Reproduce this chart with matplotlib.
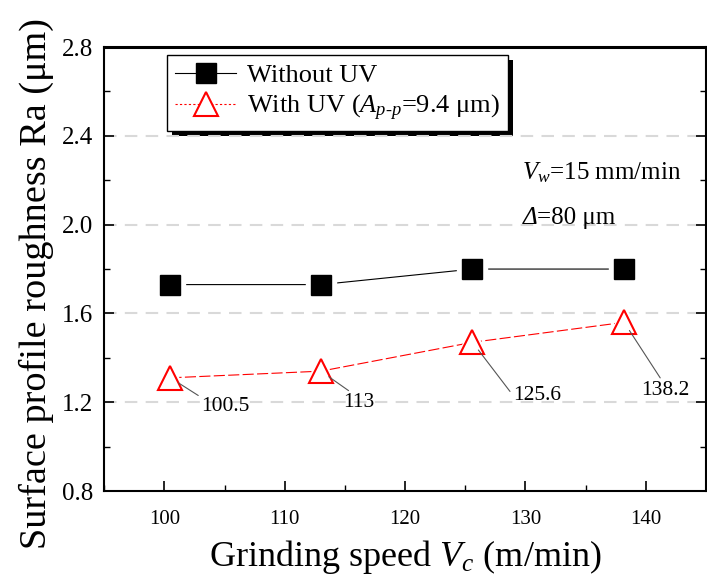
import matplotlib
matplotlib.use("Agg")
import matplotlib.pyplot as plt
from matplotlib.patches import Rectangle
from matplotlib.ticker import MultipleLocator

# Grinding speed (m/min) and surface roughness Ra (um)
speed = [100.5, 113, 125.6, 138.2]
ra_without_uv = [1.73, 1.73, 1.80, 1.80]
ra_with_uv = [1.31, 1.34, 1.47, 1.56]
speed_labels = ["100.5", "113", "125.6", "138.2"]

x_ticks = [100, 110, 120, 130, 140]
y_ticks = [0.8, 1.2, 1.6, 2.0, 2.4, 2.8]

plt.rcParams["font.family"] = ["Liberation Serif", "DejaVu Serif"]
plt.rcParams["mathtext.fontset"] = "custom"
plt.rcParams["mathtext.rm"] = "Liberation Serif"
plt.rcParams["mathtext.it"] = "Liberation Serif:italic"

fig = plt.figure(figsize=(7.07, 5.78), dpi=100)
ax = fig.add_axes([0.1475, 0.1505, 0.851, 0.768])

ax.set_xlim(95, 145)
ax.set_ylim(0.8, 2.8)
ax.set_xticks(x_ticks)
ax.set_yticks(y_ticks)
ax.set_yticklabels([f"{v:.1f}" for v in y_ticks])
ax.xaxis.set_minor_locator(MultipleLocator(5))
ax.yaxis.set_minor_locator(MultipleLocator(0.2))
ax.tick_params(axis="both", which="both", direction="in", right=True, top=False)
ax.tick_params(which="major", length=7, width=1.2)
ax.tick_params(which="minor", length=4, width=1.0)
ax.tick_params(axis="y", labelsize=18, pad=8)
ax.tick_params(axis="x", labelsize=15, pad=14)
for side in ["left", "bottom", "right"]:
    ax.spines[side].set_linewidth(1.5)
ax.spines["top"].set_linewidth(2.2)

# dashed horizontal grid
for v in y_ticks[1:-1]:
    ax.axhline(v, color="#d9d9d9", lw=1.5, ls=(0, (6, 4)), zorder=0)

# connecting lines, with a white gap around each marker
ax.plot(speed, ra_without_uv, color="black", lw=0.8, zorder=2)
ax.plot(speed, ra_with_uv, color="red", lw=0.8, ls=(0, (10, 3)), zorder=2)
ax.plot(speed, ra_without_uv, ls="none", marker="s", ms=22, mfc="white",
        mec="white", zorder=3)
ax.plot(speed, ra_with_uv, ls="none", marker="^", ms=24, mfc="white",
        mec="white", zorder=3)
ax.plot(speed, ra_without_uv, ls="none", marker="s", ms=14.5, mfc="black",
        mec="black", zorder=4)
ax.plot(speed, ra_with_uv, ls="none", marker="^", ms=17, mfc="white",
        mec="red", mew=1.5, zorder=4)

# legend handles
h1, = ax.plot([], [], color="black", lw=0.8, marker="s", ms=14.5,
              mfc="black", mec="black")
h2, = ax.plot([], [], color="red", lw=0.8, ls=(0, (2, 2)), marker="^", ms=17,
              mfc="white", mec="red", mew=1.5)
leg = ax.legend([h1, h2], ["Without UV", r"With UV ($A_{p\text{-}p}$=9.4 μm)"],
                loc="upper left", bbox_to_anchor=(0.104, 0.982),
                borderaxespad=0, fontsize=19, handlelength=2.3,
                handletextpad=0.4, labelspacing=0.22, borderpad=0.32,
                fancybox=False, framealpha=1, edgecolor="black")
leg.get_frame().set_linewidth(1.0)
leg.set_zorder(6)

# speed labels with leader lines
offsets = [((22, -14), "left", "top", (0, 1)),
           ((16, -16), "left", "top", (0.3, 1)),
           ((29, -38), "left", "center", (0, 0.5)),
           ((12, -42), "left", "top", (0.44, 1))]
for x, y, lab, (off, ha, va, rp) in zip(speed, ra_with_uv, speed_labels, offsets):
    ax.annotate(lab, xy=(x, y), xytext=off, textcoords="offset points",
                ha=ha, va=va, fontsize=15.5, zorder=5,
                arrowprops=dict(arrowstyle="-", color="#555555", lw=0.8,
                                shrinkA=0, shrinkB=7, relpos=rp))

# process conditions
ax.text(0.695, 0.718, r"$V_w$=15 mm/min", transform=ax.transAxes,
        fontsize=18, va="center", ha="left")
delta = ax.text(0.695, 0.616, "Δ", transform=ax.transAxes, fontsize=18,
                va="center", ha="left", style="italic")
ax.annotate("=80 μm", xy=(1.0, 0.5), xycoords=delta, fontsize=18,
            va="center", ha="left")

ax.set_xlabel(r"Grinding speed $V_c$ (m/min)", fontsize=26, labelpad=6)
ax.set_ylabel("Surface profile roughness Ra (μm)", fontsize=27.5, labelpad=6)
ax.yaxis.label.set_y(0.468)

# solid offset shadow behind the legend
fig.canvas.draw()
bb = leg.get_window_extent().transformed(fig.transFigure.inverted())
dx, dy = 5 / 707, 5 / 578
fig.add_artist(Rectangle((bb.x0 + dx, bb.y0 - dy), bb.width, bb.height,
                         transform=fig.transFigure, facecolor="black",
                         edgecolor="none", zorder=2.5))
ax.set_zorder(3)
ax.patch.set_visible(False)

fig.savefig("out.png", dpi=100)
